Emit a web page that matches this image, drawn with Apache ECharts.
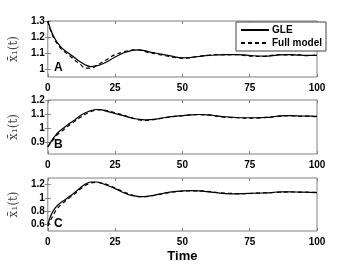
<!DOCTYPE html>
<html><head><meta charset="utf-8">
<script src="https://cdn.jsdelivr.net/npm/echarts@6/dist/echarts.min.js"></script>
<style>html,body{margin:0;padding:0;background:#fff}#c{width:352px;height:264px}</style>
</head><body><div id="c"></div>
<script>
const time = [0,1,2,3,4,5,6,8,10,12,14,16,18,20,22,25,28,30,32,34,36,38,40,43,46,50,53,56,60,63,66,70,73,76,80,83,86,90,93,96,100];
const gleA = [1.30,1.25,1.21,1.18,1.155,1.135,1.12,1.095,1.07,1.045,1.025,1.015,1.02,1.03,1.045,1.075,1.10,1.11,1.118,1.12,1.115,1.105,1.10,1.09,1.08,1.07,1.072,1.078,1.085,1.088,1.09,1.09,1.088,1.083,1.08,1.082,1.088,1.09,1.087,1.085,1.085];
const fullA = [1.30,1.24,1.20,1.17,1.145,1.125,1.11,1.085,1.055,1.03,1.005,1.005,1.02,1.04,1.06,1.09,1.105,1.115,1.12,1.118,1.11,1.10,1.095,1.085,1.075,1.068,1.07,1.08,1.087,1.09,1.088,1.09,1.085,1.08,1.078,1.085,1.09,1.087,1.09,1.083,1.087];
const gleB = [0.87,0.90,0.93,0.955,0.975,0.99,1.005,1.035,1.06,1.09,1.11,1.125,1.133,1.13,1.12,1.105,1.09,1.08,1.07,1.063,1.06,1.062,1.066,1.075,1.083,1.09,1.095,1.098,1.095,1.088,1.082,1.077,1.075,1.075,1.077,1.08,1.088,1.09,1.088,1.087,1.085];
const fullB = [0.87,0.895,0.92,0.945,0.963,0.978,0.993,1.023,1.05,1.077,1.10,1.117,1.13,1.132,1.125,1.11,1.095,1.082,1.07,1.06,1.056,1.058,1.063,1.073,1.082,1.09,1.095,1.097,1.093,1.085,1.078,1.075,1.073,1.072,1.075,1.08,1.085,1.09,1.085,1.087,1.083];
const gleC = [0.60,0.72,0.80,0.86,0.90,0.935,0.96,1.02,1.08,1.15,1.21,1.24,1.24,1.22,1.19,1.14,1.08,1.05,1.03,1.02,1.02,1.03,1.045,1.07,1.09,1.105,1.11,1.105,1.09,1.077,1.065,1.06,1.065,1.07,1.075,1.08,1.09,1.09,1.088,1.085,1.08];
const fullC = [0.57,0.66,0.74,0.81,0.86,0.90,0.935,1.00,1.06,1.13,1.19,1.225,1.235,1.225,1.20,1.15,1.095,1.06,1.035,1.02,1.018,1.025,1.04,1.065,1.085,1.10,1.105,1.105,1.095,1.08,1.07,1.065,1.063,1.068,1.075,1.08,1.085,1.09,1.087,1.087,1.082];
const xTicks = [0,25,50,75,100];
const yTicksA = [1,1.1,1.2,1.3];
const yTicksB = [0.9,1,1.1,1.2];
const yTicksC = [0.6,0.8,1,1.2];
const yRanges = [[0.95,1.3],[0.82,1.2],[0.5,1.3]];
const panelNames = ['A','B','C'];
const seriesNames = ['GLE','Full model'];

const pairs = [[gleA,fullA],[gleB,fullB],[gleC,fullC]];
const yTicks = [yTicksA,yTicksB,yTicksC];
const zip = (xs, ys) => xs.map((x,i)=>[x, ys[i]]);

const gridPos = [{top:21,height:56},{top:100,height:54},{top:178,height:55}];
const axisColor = '#808080';
const labelFont = {fontFamily:'Liberation Sans', fontWeight:'bold', fontSize:10, color:'#000'};

const grids = gridPos.map(g => ({left:46, width:271, top:g.top, height:g.height, show:true, borderColor:axisColor, borderWidth:1, backgroundColor:'#fff'}));
const xAxes = [], yAxes = [], series = [], graphics = [];
for (let i=0;i<3;i++){
  xAxes.push({type:'value', gridIndex:i, min:0, max:100, interval:25, position:'bottom',
    axisLine:{show:false}, splitLine:{show:false},
    axisTick:{inside:true, length:3, lineStyle:{color:axisColor}},
    axisLabel:Object.assign({margin:6, customValues:xTicks}, labelFont),
    name: i===2 ? 'Time' : '', nameLocation:'middle', nameGap:19,
    nameTextStyle:{fontFamily:'Liberation Sans', fontWeight:'bold', fontSize:13, color:'#000'}});
  yAxes.push({type:'value', gridIndex:i, min:yRanges[i][0], max:yRanges[i][1], position:'left',
    axisLine:{show:false}, splitLine:{show:false},
    axisTick:{inside:true, length:3, customValues:yTicks[i], lineStyle:{color:axisColor}},
    axisLabel:Object.assign({margin:3, customValues:yTicks[i]}, labelFont),
    name:'x\u0304\u2081(t)', nameLocation:'middle', nameGap:25, nameRotate:90,
    nameTextStyle:{fontFamily:'DejaVu Serif', fontSize:12, color:'#444'}});
}
for (let i=0;i<3;i++){
  xAxes.push({type:'value', gridIndex:i, min:0, max:100, interval:25, position:'top',
    axisLine:{show:false}, splitLine:{show:false}, axisLabel:{show:false},
    axisTick:{inside:true, length:3, lineStyle:{color:axisColor}}});
  yAxes.push({type:'value', gridIndex:i, min:yRanges[i][0], max:yRanges[i][1], position:'right',
    axisLine:{show:false}, splitLine:{show:false}, axisLabel:{show:false},
    axisTick:{inside:true, length:3, customValues:yTicks[i], lineStyle:{color:axisColor}}});
}
for (let i=0;i<3;i++){
  series.push({name:seriesNames[0], type:'line', xAxisIndex:i, yAxisIndex:i, data:zip(time,pairs[i][0]),
    symbol:'none', smooth:0.35, lineStyle:{color:'#000', width:1.2, type:'solid'}, itemStyle:{color:'#000'}, z:3});
  series.push({name:seriesNames[1], type:'line', xAxisIndex:i, yAxisIndex:i, data:zip(time,pairs[i][1]),
    symbol:'none', smooth:0.35, lineStyle:{color:'#000', width:1.2, type:[4,3]}, itemStyle:{color:'#000'}, z:2});
  graphics.push({type:'text', left:54, top:gridPos[i].top+gridPos[i].height-15,
    style:{text:panelNames[i], font:'bold 12px "Liberation Sans"', fill:'#000'}});
}

const chart = echarts.init(document.getElementById('c'), null, {renderer:'canvas'});
chart.setOption({
  animation:false,
  backgroundColor:'#fff',
  grid:grids, xAxis:xAxes, yAxis:yAxes, series:series, graphic:graphics,
  legend:{data:seriesNames, orient:'vertical', left:236, top:22, padding:[3,4,3,4], itemGap:3,
    itemWidth:28, itemHeight:8, backgroundColor:'#fff', borderColor:'#444', borderWidth:1,
    itemStyle:{opacity:0},
    textStyle:{fontFamily:'Liberation Sans', fontWeight:'bold', fontSize:10, color:'#000', padding:[0,0,0,-2]}}
});
</script></body></html>
